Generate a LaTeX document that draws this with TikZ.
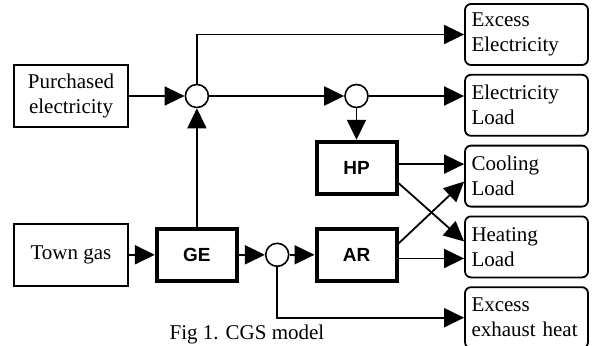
\documentclass[tikz,border=0pt]{standalone}
\usepackage{fontspec}
\setmainfont{Liberation Serif}
\newfontfamily\unitfont{Liberation Sans}
\usepackage{tikz}
\usetikzlibrary{arrows.meta,positioning,calc}

\begin{document}
\begin{tikzpicture}[
    x=1pt, y=1pt,
    node distance=8pt and 26pt,
    every node/.style={font=\fontsize{21}{25}\selectfont},
    source/.style={draw, rectangle, line width=1.8pt, align=center, minimum width=114pt, minimum height=62pt, inner sep=2pt},
    unit/.style={draw, rectangle, line width=4pt, minimum width=80pt, minimum height=52pt, font=\unitfont\bfseries\fontsize{19}{22}\selectfont},
    junction/.style={draw, circle, line width=1.6pt, minimum size=23pt, inner sep=0pt},
    load/.style={draw, rectangle, rounded corners=6pt, line width=1.8pt, align=left, text width=110pt, inner xsep=6.5pt, minimum width=123pt, minimum height=61pt},
    arrow/.style={-{Triangle[length=20pt, width=19pt]}, line width=1.8pt}
  ]
    \useasboundingbox (0,0) rectangle (596,-345);

    \node (purchased) [source] at (71,-96) {Purchased\\electricity};
    \node (towngas) [source, below=95pt of purchased] {Town gas};
    \node (ge) [unit, right=26pt of towngas] {GE};
    \node (jelec) [junction] at (ge |- purchased) {};
    \node (jheat) [junction, right=26pt of ge] {};
    \node (ar) [unit, right=25pt of jheat] {AR};
    \node (hp) [unit, above=31pt of ar] {HP};
    \node (jhp) [junction] at (hp |- purchased) {};

    \node (exelec) [load] at (526.5,-34.5) {Excess\\Electricity};
    \node (elecload) [load, below=of exelec] {Electricity\\Load};
    \node (coolload) [load, below=of elecload] {Cooling\\Load};
    \node (heatload) [load, below=of coolload] {Heating\\Load};
    \node (exheat) [load, below=of heatload] {Excess\\exhaust heat};

    \node (caption) [anchor=base] at (247,-339) {Fig 1. CGS model};

    \draw [arrow] (purchased) -- (jelec);
    \draw [arrow] (towngas) -- (ge);
    \draw [arrow] (ge) -- (jelec);
    \draw [arrow] (jelec) |- (exelec);
    \draw [arrow] (jelec) -- (jhp);
    \draw [arrow] (jhp) -- (jhp -| elecload.west);
    \draw [arrow] (jhp) -- (hp);
    \draw [arrow] (hp.5) -- (hp.5 -| coolload.west);
    \draw [arrow] (hp.-20) -- (heatload.175);
    \draw [arrow] (ar.15) -- (coolload.185);
    \draw [arrow] (ar.-5) -- (ar.-5 -| heatload.west);
    \draw [arrow] (ge) -- (jheat);
    \draw [arrow] (jheat) -- (ar);
    \draw [arrow] (jheat) |- (exheat);
  \end{tikzpicture}
\end{document}
